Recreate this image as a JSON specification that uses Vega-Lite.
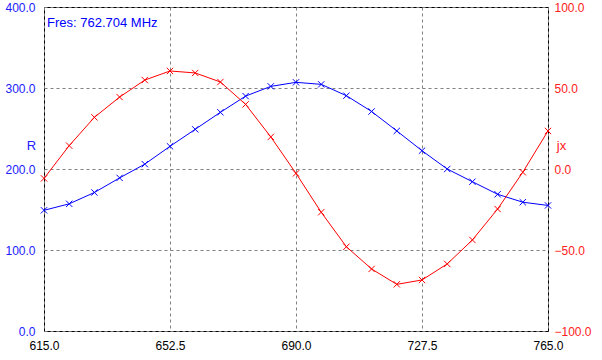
{
  "$schema": "https://vega.github.io/schema/vega-lite/v6.json",
  "width": 504,
  "height": 324,
  "autosize": {"type": "none"},
  "padding": {"left": 44, "top": 7, "right": 54, "bottom": 29},
  "background": "white",
  "config": {
    "view": {"stroke": "black", "strokeWidth": 1},
    "font": "Liberation Sans",
    "axis": {
      "labelFont": "Liberation Sans",
      "labelFontSize": 12,
      "titleFont": "Liberation Sans",
      "titleFontSize": 13,
      "titleFontWeight": "normal",
      "ticks": false,
      "domain": false,
      "gridColor": "#808080",
      "gridDash": [3, 3],
      "gridWidth": 1,
      "gridOpacity": 1
    }
  },
  "datasets": {
    "zdata": [
      {"f": 615.0, "R": 149, "X": -5.8},
      {"f": 622.5, "R": 157, "X": 14.4},
      {"f": 630.0, "R": 171, "X": 31.9},
      {"f": 637.5, "R": 189, "X": 44.4},
      {"f": 645.0, "R": 206, "X": 54.9},
      {"f": 652.5, "R": 228, "X": 60.5},
      {"f": 660.0, "R": 249, "X": 59.3},
      {"f": 667.5, "R": 270, "X": 53.7},
      {"f": 675.0, "R": 290, "X": 39.9},
      {"f": 682.5, "R": 302, "X": 19.8},
      {"f": 690.0, "R": 307, "X": -2.7},
      {"f": 697.5, "R": 304.5, "X": -26.7},
      {"f": 705.0, "R": 290.5, "X": -48.0},
      {"f": 712.5, "R": 271, "X": -61.7},
      {"f": 720.0, "R": 247, "X": -71.2},
      {"f": 727.5, "R": 222.6, "X": -68.5},
      {"f": 735.0, "R": 200, "X": -58.6},
      {"f": 742.5, "R": 184.3, "X": -43.8},
      {"f": 750.0, "R": 168.8, "X": -24.7},
      {"f": 757.5, "R": 159, "X": -2.0},
      {"f": 765.0, "R": 155, "X": 23.5}
    ],
    "note": [{"label": "Fres: 762.704 MHz", "f": 615, "R": 400}]
  },
  "layer": [
    {
      "data": {"name": "zdata"},
      "encoding": {
        "x": {
          "field": "f",
          "type": "quantitative",
          "scale": {"domain": [615, 765], "nice": false, "zero": false},
          "axis": {
            "values": [615, 652.5, 690, 727.5, 765],
            "format": ".1f",
            "title": null,
            "labelColor": "black",
            "labelPadding": 9,
            "labelFlush": false,
            "labelOverlap": false
          }
        },
        "y": {
          "field": "R",
          "type": "quantitative",
          "scale": {"domain": [0, 400], "nice": false},
          "axis": {
            "orient": "left",
            "values": [0, 100, 200, 300, 400],
            "format": ".1f",
            "title": "R",
            "titleAngle": 0,
            "titleColor": "#2020ff",
            "titleX": -13,
            "titleY": 138,
            "titleAlign": "center",
            "titleBaseline": "middle",
            "labelColor": "#2020ff",
            "labelPadding": 9,
            "labelBaseline": "middle",
            "labelFlush": false,
            "labelOverlap": false
          }
        }
      },
      "layer": [
        {"mark": {"type": "line", "color": "#0000ff", "strokeWidth": 1}},
        {"mark": {"type": "point", "shape": "M-1,-1L1,1M-1,1L1,-1", "filled": false, "color": "#0000ff", "strokeWidth": 1, "size": 40, "opacity": 1}},
        {
          "data": {"name": "note"},
          "mark": {"type": "text", "align": "left", "baseline": "middle", "dx": 3, "dy": 16, "fontSize": 13, "color": "#0000ff", "font": "Liberation Sans"},
          "encoding": {"text": {"field": "label"}}
        }
      ]
    },
    {
      "data": {"name": "zdata"},
      "encoding": {
        "x": {"field": "f", "type": "quantitative"},
        "y": {
          "field": "X",
          "type": "quantitative",
          "scale": {"domain": [-100, 100], "nice": false, "zero": false},
          "axis": {
            "orient": "right",
            "values": [-100, -50, 0, 50, 100],
            "format": ".1f",
            "grid": false,
            "title": "jx",
            "titleAngle": 0,
            "titleColor": "#ff2020",
            "titleX": 13,
            "titleY": 138,
            "titleAlign": "center",
            "titleBaseline": "middle",
            "labelColor": "#ff2020",
            "labelPadding": 6,
            "labelBaseline": "middle",
            "labelFlush": false,
            "labelOverlap": false
          }
        }
      },
      "layer": [
        {"mark": {"type": "line", "color": "#ff0000", "strokeWidth": 1}},
        {"mark": {"type": "point", "shape": "M-1,-1L1,1M-1,1L1,-1", "filled": false, "color": "#ff0000", "strokeWidth": 1, "size": 40, "opacity": 1}}
      ]
    }
  ],
  "resolve": {"scale": {"y": "independent"}}
}
